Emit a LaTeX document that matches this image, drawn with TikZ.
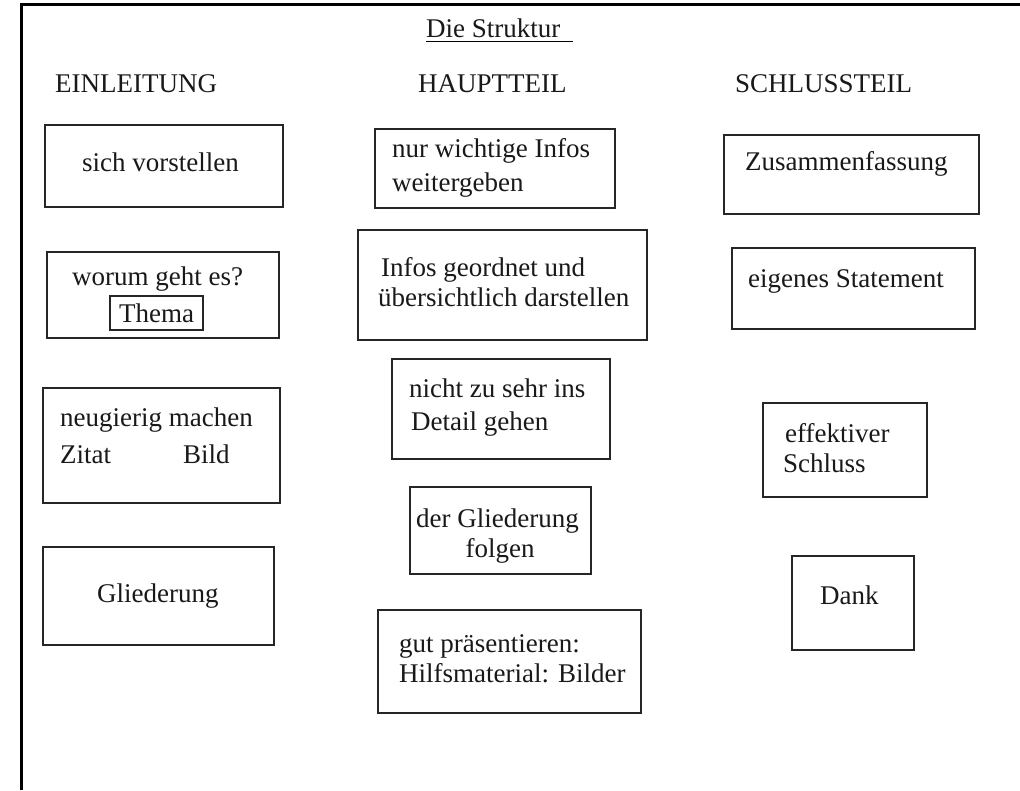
\documentclass[tikz,border=0pt]{standalone}
\usepackage{fontspec}
\setmainfont{Liberation Serif}
\begin{document}
\begin{tikzpicture}[x=1pt,y=-1pt,
  box/.style={draw=black!85,line width=1.7pt,inner sep=0pt},
  lbl/.style={font=\fontsize{27}{32}\selectfont,inner sep=0pt,text=black!90},
  frameline/.style={line width=3pt,black}]
\useasboundingbox (0,0) rectangle (1020,790);
\fill[white] (0,0) rectangle (1020,790);
% outer frame (top and left only)
\coordinate (fTR) at (1020,4.7);
\coordinate (fTL) at (21,4.7);
\coordinate (fBL) at (21,790);
\draw[frameline] (fTR) -- (fTL) -- (fBL);

% title and headings
\node[lbl,anchor=base west] (title) at (426,37) {Die Struktur};
\coordinate (ulA) at (426,41.5);
\coordinate (ulB) at (573,41.5);
\draw[line width=1.5pt] (ulA) -- (ulB);
\node[lbl,anchor=base west] (hE) at (55,92) {EINLEITUNG};
\node[lbl,anchor=base west] (hH) at (418,92) {HAUPTTEIL};
\node[lbl,anchor=base west] (hS) at (735,92) {SCHLUSSTEIL};

% EINLEITUNG boxes
\node[box,minimum width=238pt,minimum height=82pt] (e1) at (164,166) {};
\node[lbl,anchor=base west] (e1a) at (82,171) {sich vorstellen};
\node[box,minimum width=232pt,minimum height=86pt] (e2) at (163,295) {};
\node[lbl,anchor=base west] (e2a) at (72,285) {worum geht es?};
\node[box,lbl,line width=1.5pt,minimum width=93pt,minimum height=34pt] (e2b) at (156.5,313) {Thema};
\node[box,minimum width=237pt,minimum height=115pt] (e3) at (161.5,445.5) {};
\node[lbl,anchor=base west] (e3a) at (60,426) {neugierig machen};
\node[lbl,anchor=base west] (e3b) at (60,463) {Zitat};
\node[lbl,anchor=base west] (e3c) at (183,463) {Bild};
\node[box,minimum width=231pt,minimum height=98pt] (e4) at (158.5,596) {};
\node[lbl,anchor=base west] (e4a) at (97,602) {Gliederung};

% HAUPTTEIL boxes
\node[box,minimum width=240pt,minimum height=79pt] (h1) at (495,168.5) {};
\node[lbl,anchor=base west] (h1a) at (392,157) {nur wichtige Infos};
\node[lbl,anchor=base west] (h1b) at (392,191) {weitergeben};
\node[box,minimum width=289pt,minimum height=110pt] (h2) at (502.5,285) {};
\node[lbl,anchor=base west] (h2a) at (381,276) {Infos geordnet und};
\node[lbl,anchor=base west] (h2b) at (378,306) {übersichtlich darstellen};
\node[box,minimum width=218pt,minimum height=100pt] (h3) at (501,409) {};
\node[lbl,anchor=base west] (h3a) at (409,397) {nicht zu sehr ins};
\node[lbl,anchor=base west] (h3b) at (411,430) {Detail gehen};
\node[box,minimum width=181pt,minimum height=87pt] (h4) at (500.5,530.5) {};
\node[lbl,anchor=base] (h4a) at (497.5,527) {der Gliederung};
\node[lbl,anchor=base] (h4b) at (500,557) {folgen};
\node[box,minimum width=263pt,minimum height=103pt] (h5) at (509.5,661.5) {};
\node[lbl,anchor=base west] (h5a) at (399,652) {gut präsentieren:};
\node[lbl,anchor=base west] (h5b) at (399,682) {Hilfsmaterial: Bilder};

% SCHLUSSTEIL boxes
\node[box,minimum width=255pt,minimum height=79pt] (s1) at (851.5,174.5) {};
\node[lbl,anchor=base west] (s1a) at (745,170) {Zusammenfassung};
\node[box,minimum width=243pt,minimum height=81pt] (s2) at (853.5,288.5) {};
\node[lbl,anchor=base west] (s2a) at (748,287) {eigenes Statement};
\node[box,minimum width=164pt,minimum height=94pt] (s3) at (845,450) {};
\node[lbl,anchor=base west] (s3a) at (785,442) {effektiver};
\node[lbl,anchor=base west] (s3b) at (783,472) {Schluss};
\node[box,minimum width=122pt,minimum height=94pt] (s4) at (853,603) {};
\node[lbl,anchor=base west] (s4a) at (820,604) {Dank};
\end{tikzpicture}
\end{document}
